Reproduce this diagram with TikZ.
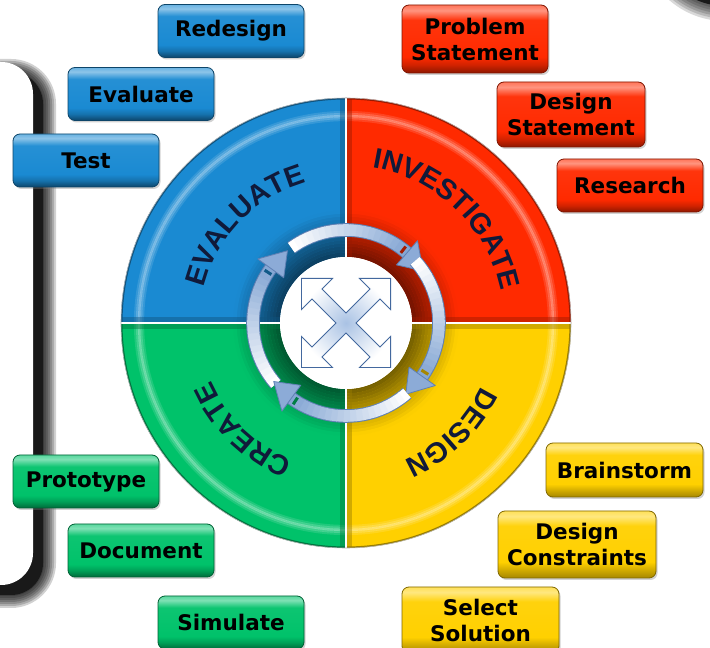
\documentclass[tikz,border=0pt]{standalone}
\usepackage{fontspec}
\usetikzlibrary{decorations.text,shadows}
\newfontfamily\btnfont{DejaVu Sans}
\newfontfamily\arcfont{Liberation Sans}
\definecolor{qblue}{HTML}{1A8AD2}
\definecolor{qred}{HTML}{FF2A00}
\definecolor{qyellow}{HTML}{FFD000}
\definecolor{qgreen}{HTML}{00C26A}
\definecolor{arctext}{HTML}{101A3A}
\definecolor{ringblue}{HTML}{7FA2D2}
\definecolor{ringedge}{HTML}{5F80B4}
\definecolor{xfill}{HTML}{A9C2E4}
\definecolor{xedge}{HTML}{43689E}
% button shadings: dark foot, plain body, light top
\newcommand\btnshade[3]{\pgfdeclareverticalshading{#1}{100bp}{color(0bp)=(#3); color(25bp)=(#3); color(31bp)=(#2!82!black); color(37bp)=(#2); color(64bp)=(#2!95!white); color(71bp)=(#2!50!white); color(75bp)=(#2!65!white); color(100bp)=(#2!65!white)}}
\btnshade{btnblue}{qblue}{qblue!50!black}
\btnshade{btnred}{qred}{qred!55!black}
\btnshade{btnyellow}{qyellow}{qyellow!65!black}
\btnshade{btngreen}{qgreen}{qgreen!55!black}
\begin{document}
\begin{tikzpicture}[x=1pt,y=1pt,
	btn/.style={rectangle, rounded corners=7pt, shade, shading=btn#1, draw=q#1!50!black, line width=0.8pt,
		minimum width=146pt, minimum height=53pt, inner sep=0pt, align=center,
		font=\btnfont\bfseries\fontsize{21.5}{26}\selectfont,
		drop shadow={shadow xshift=1.5pt, shadow yshift=-2pt, opacity=0.35}},
	arclabel/.style={decorate, decoration={text along path, text align=center, text color=arctext,
		text={|\arcfont\bfseries\fontsize{28.5}{30}\selectfont|#1}}}]
		\useasboundingbox (0,0) rectangle (710,648);
		\clip (0,0) rectangle (710,648);
		\fill[white] (0,0) rectangle (710,648);
		% panel on the left and its shadow
		\foreach \w in {26,22,...,2}
			\draw[black, opacity=0.18, line width=\w pt, rounded corners=32pt] (-60,53) rectangle (43,576);
		\fill[black!90, rounded corners=32pt] (-60,53) rectangle (43,576);
		\fill[white, rounded corners=32pt] (-70,63) rectangle (33,586);
		% shadow corner, top right
		\foreach \w in {30,25,...,5}
			\draw[black, opacity=0.15, line width=\w pt, rounded corners=70pt] (655,642) rectangle (900,900);
		\fill[black!90, rounded corners=70pt] (655,642) rectangle (900,900);
		\begin{scope}[shift={(346,325)}]
		% the four quarters
		\foreach \qa/\qc in {90/qblue,0/qred,-90/qyellow,180/qgreen}{
			\pgfmathsetmacro\qaend{\qa+90}
			\begin{scope}
				\clip (\qa:66pt) arc[start angle=\qa,end angle=\qaend,radius=66pt] -- (\qaend:225pt) arc[start angle=\qaend,end angle=\qa,radius=225pt] -- cycle;
				\fill[\qc] (0,0) circle[radius=230pt];
				\foreach \i in {0,...,15}{
					\pgfmathtruncatemacro\m{45+\i*3.6}
					\pgfmathsetmacro\rr{66+3*\i}
					\draw[\qc!\m!black, line width=3.3pt] (0,0) circle[radius=\rr pt];
				}
				\foreach \i/\o in {0/0.12,1/0.25,2/0.4,3/0.25,4/0.12}{
					\pgfmathsetmacro\rr{203+2*\i}
					\draw[white, opacity=\o, line width=2.2pt] (0,0) circle[radius=\rr pt];
				}
				\draw[\qc!60!black, line width=3pt] (0,0) circle[radius=225pt];
				\draw[\qc!60!black, opacity=0.45, line width=12pt] (\qa:0pt) -- (\qa:240pt) (\qaend:0pt) -- (\qaend:240pt);
			\end{scope}
		}
		\draw[white, line width=1.6pt] (90:66pt) -- (90:225pt) (0:66pt) -- (0:225pt) (-90:66pt) -- (-90:225pt) (180:66pt) -- (180:225pt);
		\draw[black!30, line width=0.6pt] (0,0) circle[radius=225pt];
		% labels along the quarters
		\path[arclabel=EVALUATE] (181:146pt) arc[start angle=181,end angle=91,radius=146pt];
		\path[arclabel=INVESTIGATE] (91:158pt) arc[start angle=91,end angle=1,radius=158pt];
		\path[arclabel=DESIGN] (-1:149pt) arc[start angle=-1,end angle=-91,radius=149pt];
		\path[arclabel=CREATE] (-89:147pt) arc[start angle=-89,end angle=-179,radius=147pt];
		% cycle arrows
		\foreach \h/\qc in {137/qblue,42/qred,-42/qyellow,-133/qgreen}{
			\pgfmathsetmacro\ringE{\h+7}
			\pgfmathsetmacro\ringS{\h+84}
			\pgfmathsetmacro\ringT{\h-8}
			\draw[ringedge, line width=13.6pt] (\ringS:93pt) arc[start angle=\ringS,end angle=\ringE,radius=93pt];
			\foreach \j in {0,...,19}{
				\pgfmathsetmacro\ra{\ringS-3.85*\j}
				\pgfmathsetmacro\rb{\ringS-3.85*(\j+1.15)}
				\pgfmathtruncatemacro\m{\j*5}
				\draw[ringblue!\m!white, line width=11.6pt] (\ra:93pt) arc[start angle=\ra,end angle=\rb,radius=93pt];
			}
			\pgfmathsetmacro\ra{\ringE+3}
			\draw[\qc!65!black, line width=3pt] (\ra:89pt) -- (\ra:97pt);
			\filldraw[fill=ringblue!90!white, draw=ringedge, line width=0.8pt, line join=round] (\ringE:77pt) -- (\ringT:93pt) -- (\ringE:109pt) -- cycle;
		}
		% centre
		\fill[white] (0,0) circle[radius=66pt];
		\begin{scope}[rotate=45]
			\shadedraw[inner color=xfill, outer color=white, draw=xedge, line width=0.9pt]
				(41,-7) -- (41,-22) -- (63,0) -- (41,22) -- (41,7) -- (7,7) -- (7,41) -- (22,41) -- (0,63) -- (-22,41) -- (-7,41) -- (-7,7)
				-- (-41,7) -- (-41,22) -- (-63,0) -- (-41,-22) -- (-41,-7) -- (-7,-7) -- (-7,-41) -- (-22,-41) -- (0,-63) -- (22,-41) -- (7,-41) -- (7,-7) -- cycle;
		\end{scope}
		\end{scope}
		% Evaluate
		\node[btn=blue] (redesign) at (231,617) {Redesign};
		\node[btn=blue] (evaluate) at (141,554) {Evaluate};
		\node[btn=blue] (test) at (86,487.5) {Test};
		% Investigate
		\node[btn=red, minimum height=68pt] (probstmt) at (475,609) {Problem\\Statement};
		\node[btn=red, minimum width=148pt, minimum height=65pt] (designstmt) at (571,533.5) {Design\\Statement};
		\node[btn=red] (research) at (630,462.5) {Research};
		% Design
		\node[btn=yellow, minimum width=157pt, minimum height=54pt] (brainstorm) at (624.5,178) {Brainstorm};
		\node[btn=yellow, minimum width=158pt, minimum height=67pt] (constraints) at (577,103.5) {Design\\Constraints};
		\node[btn=yellow, minimum width=157pt, minimum height=66pt] (selectsol) at (480.5,28) {Select\\Solution};
		% Create
		\node[btn=green] (prototype) at (86,166.5) {Prototype};
		\node[btn=green] (document) at (141,97.5) {Document};
		\node[btn=green] (simulate) at (231,25.5) {Simulate};
\end{tikzpicture}
\end{document}
